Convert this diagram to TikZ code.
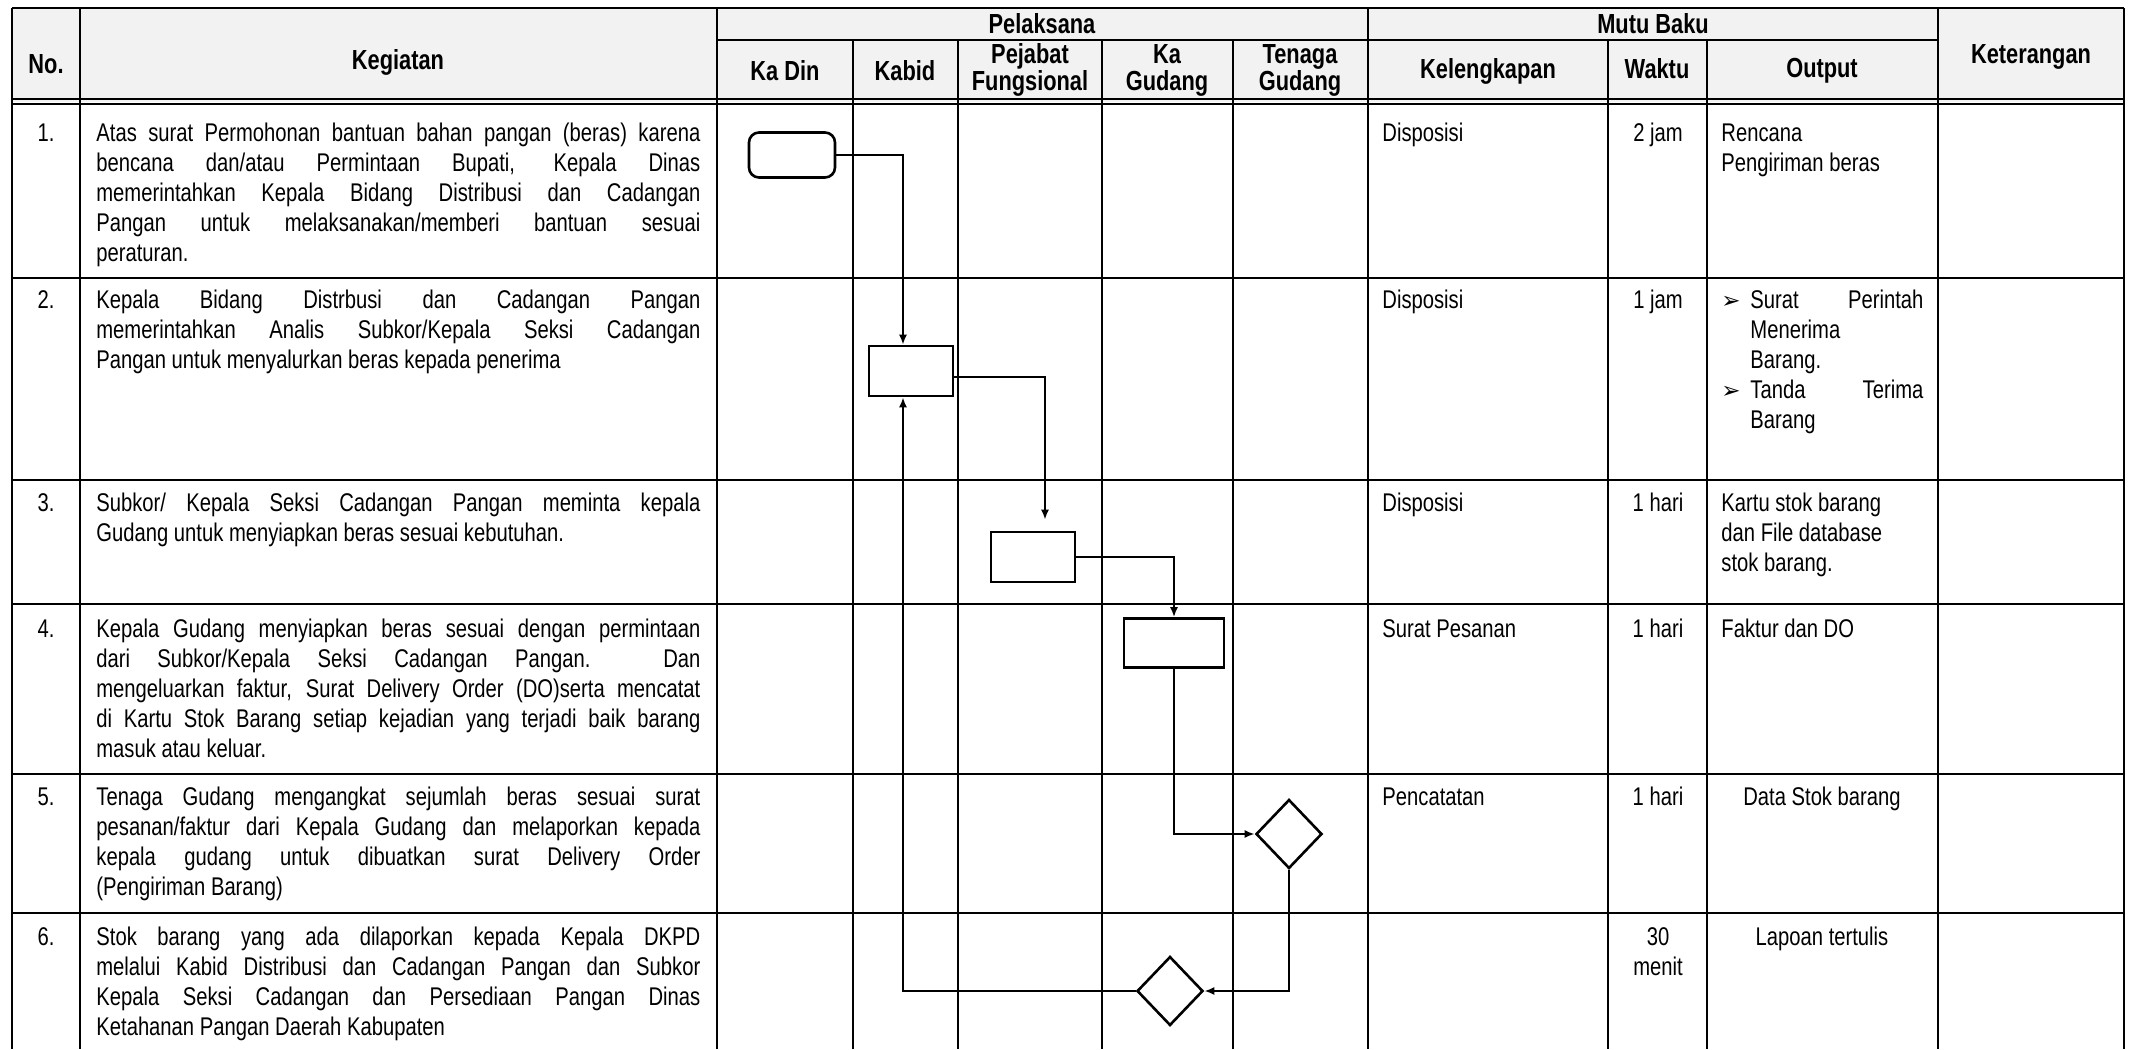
\documentclass[tikz,border=0pt]{standalone}
\usepackage{fontspec}
\setmainfont[FakeStretch=0.79]{Liberation Sans}
\newfontfamily\bulletfont{DejaVu Sans}
\usetikzlibrary{shapes,shapes.geometric,arrows.meta,positioning,calc}
\hyphenpenalty=10000
\exhyphenpenalty=10000

\begin{document}
\begin{tikzpicture}[x=0.5pt,y=-0.5pt,
  every node/.style={font=\fontsize{12.8}{15}\selectfont},
  grid/.style={line width=1.1pt},
  head/.style={font=\fontsize{13.8}{13.5}\selectfont\bfseries, align=center},
  kegiatan/.style={anchor=north west, text width=302pt, inner sep=0pt, align=justify},
  nomor/.style={anchor=north, inner sep=0pt},
  isi/.style={anchor=north west, inner sep=0pt, align=left},
  tengah/.style={anchor=north, inner sep=0pt, align=center},
  startbox/.style={draw, line width=1.3pt, rounded corners=5pt, minimum width=43pt, minimum height=22.5pt},
  procbox/.style={draw, line width=1.3pt, minimum width=42pt, minimum height=25pt},
  decision/.style={draw, diamond, line width=1.3pt, minimum width=33pt, minimum height=34.5pt, inner sep=0pt},
  flow/.style={line width=1.05pt, -{Latex[length=5pt,width=4pt]}}
]
\fill[white] (0,0) rectangle (2129,1049);
\useasboundingbox (0,0) rectangle (2129,1049);
\fill[black!5] (12,8) rectangle (2124,102);

\draw[grid] (12,8) -- (2124,8);
\draw[grid] (717,40) -- (1938,40);
\draw[grid] (12,99) -- (2124,99);
\draw[grid] (12,104) -- (2124,104);
\foreach \y in {278,480,604,774,913}
  \draw[grid] (12,\y) -- (2124,\y);
\foreach \x in {12,80,717,1368,1938,2124}
  \draw[grid] (\x,8) -- (\x,1049);
\foreach \x in {853,958,1102,1233,1608,1707}
  \draw[grid] (\x,40) -- (\x,1049);

\node[head] (hno) at (46,64) {No.};
\node[head] (hkeg) at (398,62) {Kegiatan};
\node[head] (hpel) at (1042,24) {Pelaksana};
\node[head] (hkadin) at (785,71) {Ka Din};
\node[head] (hkabid) at (905,71) {Kabid};
\node[head] (hpejabat) at (1030,70) {Pejabat\\Fungsional};
\node[head] (hkagudang) at (1167,70) {Ka\\Gudang};
\node[head] (htenaga) at (1300,70) {Tenaga\\Gudang};
\node[head] (hmutu) at (1653,24) {Mutu Baku};
\node[head] (hkel) at (1488,71) {Kelengkapan};
\node[head] (hwaktu) at (1657,69) {Waktu};
\node[head] (houtput) at (1822,71) {Output};
\node[head] (hket) at (2031,57) {Keterangan};

\node[nomor] (n1) at (46,123) {1.};
\node[nomor] (n2) at (46,290) {2.};
\node[nomor] (n3) at (46,493) {3.};
\node[nomor] (n4) at (46,619) {4.};
\node[nomor] (n5) at (46,787) {5.};
\node[nomor] (n6) at (46,927) {6.};

\node[kegiatan] (k1) at (96,123) {Atas surat Permohonan bantuan bahan pangan (beras) karena\linebreak bencana dan/atau Permintaan Bupati, Kepala Dinas\linebreak memerintahkan Kepala Bidang Distribusi dan Cadangan\linebreak Pangan untuk melaksanakan/memberi bantuan sesuai\linebreak peraturan.};
\node[kegiatan] (k2) at (96,290) {Kepala Bidang Distrbusi dan Cadangan Pangan\linebreak memerintahkan Analis Subkor/Kepala Seksi Cadangan\linebreak Pangan untuk menyalurkan beras kepada penerima};
\node[kegiatan] (k3) at (96,493) {Subkor/ Kepala Seksi Cadangan Pangan meminta kepala\linebreak Gudang untuk menyiapkan beras sesuai kebutuhan.};
\node[kegiatan] (k4) at (96,619) {Kepala Gudang menyiapkan beras sesuai dengan permintaan\linebreak dari Subkor/Kepala Seksi Cadangan Pangan. Dan\linebreak mengeluarkan faktur, Surat Delivery Order (DO)serta mencatat\linebreak di Kartu Stok Barang setiap kejadian yang terjadi baik barang\linebreak masuk atau keluar.};
\node[kegiatan] (k5) at (96,787) {Tenaga Gudang mengangkat sejumlah beras sesuai surat\linebreak pesanan/faktur dari Kepala Gudang dan melaporkan kepada\linebreak kepala gudang untuk dibuatkan surat Delivery Order\linebreak (Pengiriman Barang)};
\node[kegiatan] (k6) at (96,927) {Stok barang yang ada dilaporkan kepada Kepala DKPD\linebreak melalui Kabid Distribusi dan Cadangan Pangan dan Subkor\linebreak Kepala Seksi Cadangan dan Persediaan Pangan Dinas\linebreak Ketahanan Pangan Daerah Kabupaten};

\node[isi] (kel1) at (1382,123) {Disposisi};
\node[isi] (kel2) at (1382,290) {Disposisi};
\node[isi] (kel3) at (1382,493) {Disposisi};
\node[isi] (kel4) at (1382,619) {Surat Pesanan};
\node[isi] (kel5) at (1382,787) {Pencatatan};

\node[tengah] (w1) at (1658,123) {2 jam};
\node[tengah] (w2) at (1658,290) {1 jam};
\node[tengah] (w3) at (1658,493) {1 hari};
\node[tengah] (w4) at (1658,619) {1 hari};
\node[tengah] (w5) at (1658,787) {1 hari};
\node[tengah] (w6) at (1658,927) {30\\menit};

\node[isi] (o1) at (1721,123) {Rencana\\Pengiriman beras};
\node[kegiatan, text width=101pt] (o2) at (1721,290) {\noindent\makebox[14.5pt][l]{\bulletfont\fontsize{11.5}{15}\selectfont ➢}Surat Perintah\linebreak Menerima\newline Barang.\hangindent=14.5pt\hangafter=1\par
\noindent\makebox[14.5pt][l]{\bulletfont\fontsize{11.5}{15}\selectfont ➢}Tanda Terima\linebreak Barang\hangindent=14.5pt\hangafter=1\par};
\node[isi] (o3) at (1721,493) {Kartu stok barang\\dan File database\\stok barang.};
\node[isi] (o4) at (1721,619) {Faktur dan DO};
\node[tengah] (o5) at (1822,787) {Data Stok barang};
\node[tengah] (o6) at (1822,927) {Lapoan tertulis};

\node[startbox] (start) at (792,155) {};
\node[procbox] (kabid) at (911,371) {};
\node[procbox] (pejabat) at (1033,557) {};
\node[procbox, minimum width=50pt, minimum height=24.5pt] (gudang) at (1174,643) {};
\node[decision] (cek) at (1289,834) {};
\node[decision] (lapor) at (1170,991) {};

\draw[flow] (start.east) -| ([xshift=-4pt]kabid.north);
\draw[flow, shorten >=5.5pt] ([yshift=-3pt]kabid.east) -| ([xshift=6pt]pejabat.north);
\draw[flow] (pejabat.east) -| (gudang.north);
\draw[flow] (gudang.south) |- (cek.west);
\draw[flow] (cek.south) |- (lapor.east);
\draw[flow] (lapor.west) -| ([xshift=-4pt]kabid.south);
\end{tikzpicture}
\end{document}
